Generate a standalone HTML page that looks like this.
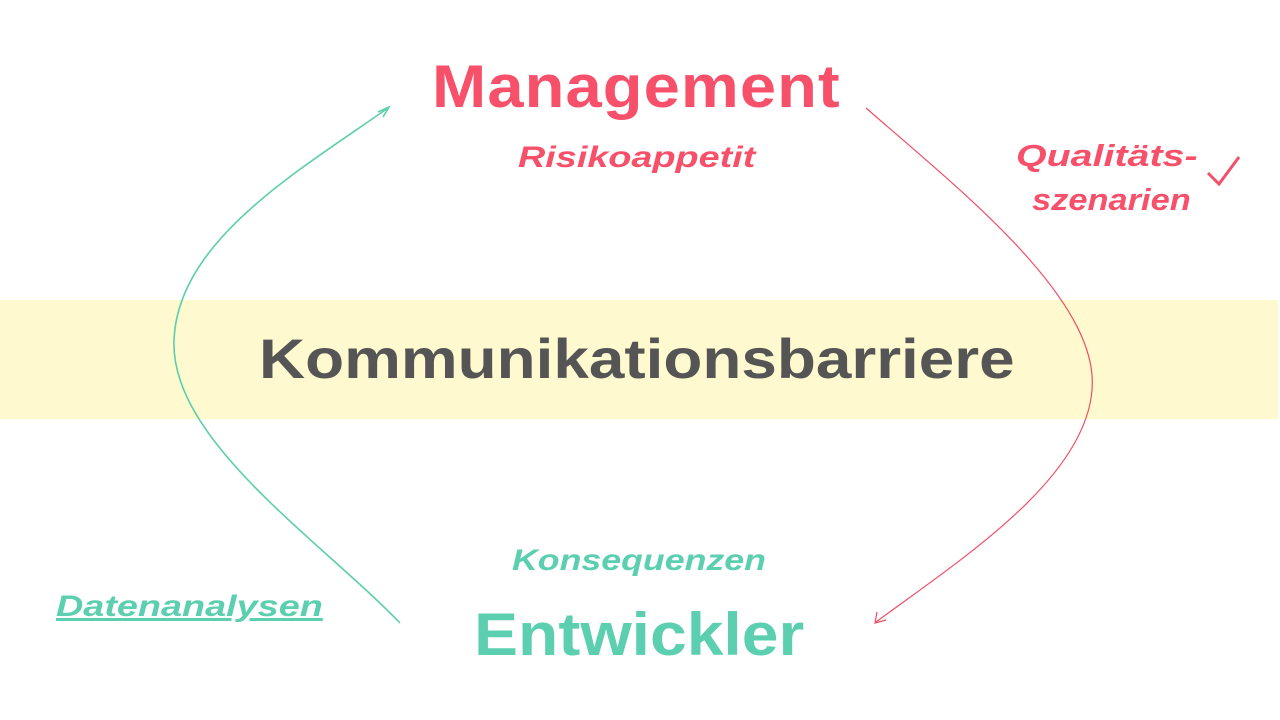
<!DOCTYPE html>
<html><head><meta charset="utf-8"><style>
html,body{margin:0;padding:0;width:1280px;height:720px;background:#fff;overflow:hidden;font-family:"Liberation Sans","DejaVu Sans",sans-serif;}
.t{position:absolute;white-space:nowrap;font-weight:bold;transform-origin:0 0;}
</style></head><body>
<div style="position:absolute;left:0;top:300px;width:1278px;height:119px;background:#fef9cf"></div>
<svg width="1280" height="720" style="position:absolute;left:0;top:0">
<path d="M400 623 C 320 540, 170 440, 174 340 C 178 240, 300 170, 388 108" fill="none" stroke="#5ccfa8" stroke-width="1.6"/>
<path d="M378 112 L389 107 L383 117" fill="none" stroke="#5ccfa8" stroke-width="1.6"/>
<path d="M866 108 C 960 190, 1100 300, 1092 390 C 1085 480, 960 560, 876 622" fill="none" stroke="#f04e66" stroke-width="1.2"/>
<path d="M877 612 L875 623 L886 620" fill="none" stroke="#f04e66" stroke-width="1.2"/>
<path d="M1208 173 L1219 184 L1239 157" fill="none" stroke="#f2506a" stroke-width="3"/>
</svg>
<div class="t" style="left:432px;top:52px;font-size:60px;color:#f7506a;letter-spacing:1px;transform:scaleX(1.085)">Management</div>
<div class="t" style="left:518px;top:141px;font-size:30px;color:#f7506a;font-style:italic;transform:scaleX(1.26)">Risikoappetit</div>
<div class="t" style="left:1016px;top:138px;font-size:31px;color:#f7506a;font-style:italic;transform:scaleX(1.27)">Qualitäts-</div>
<div class="t" style="left:1032px;top:182px;font-size:31px;color:#f7506a;font-style:italic;transform:scaleX(1.11)">szenarien</div>
<div class="t" style="left:259px;top:326px;font-size:56px;color:#555555;transform:scaleX(1.14)">Kommunikationsbarriere</div>
<div class="t" style="left:512px;top:544px;font-size:30px;color:#5ccfb0;font-style:italic;transform:scaleX(1.19)">Konsequenzen</div>
<div class="t" style="left:474px;top:600px;font-size:60px;color:#5ccfb0;transform:scaleX(1.1)">Entwickler</div>
<div class="t" style="left:56px;top:590px;font-size:30px;color:#5ccfb0;font-style:italic;text-decoration:underline;transform:scaleX(1.26)">Datenanalysen</div>
</body></html>
